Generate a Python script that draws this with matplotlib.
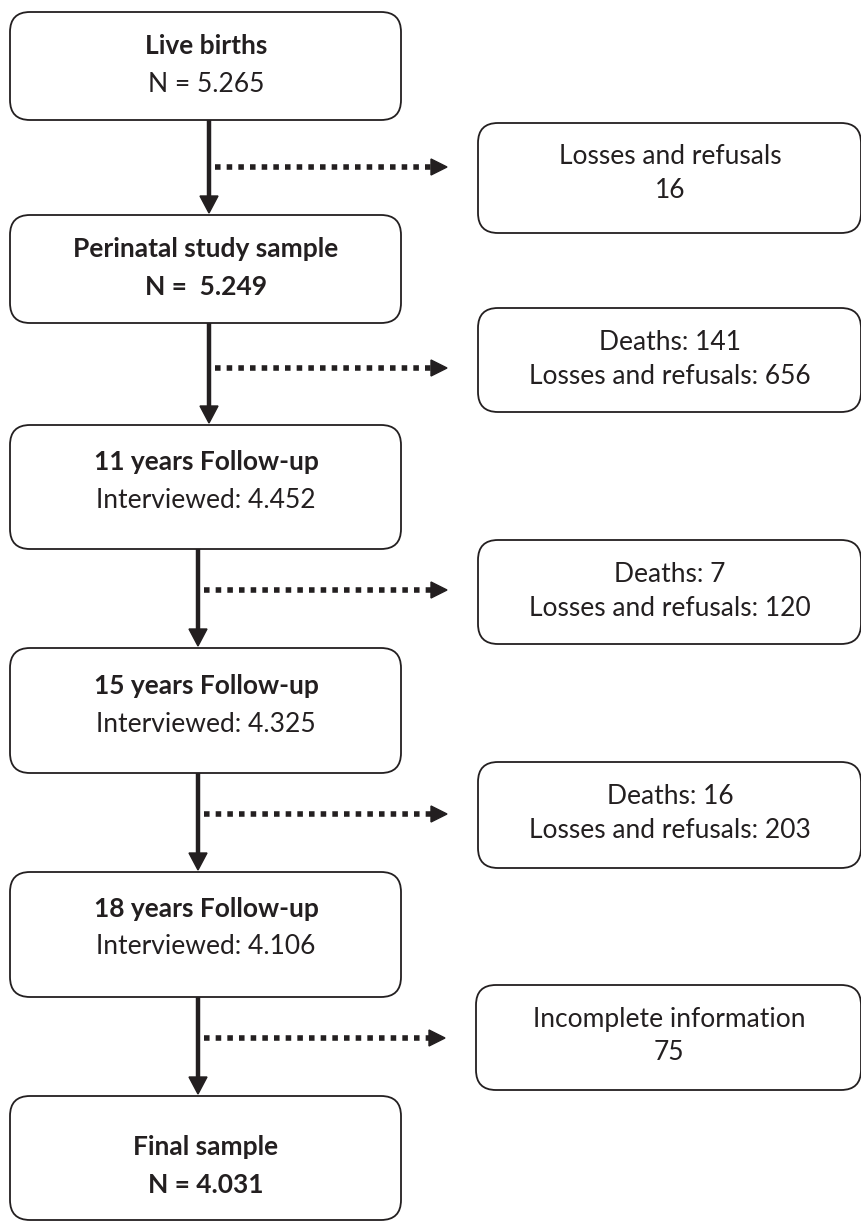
import matplotlib.pyplot as plt
from matplotlib.patches import FancyBboxPatch, Polygon

plt.rcParams['font.family'] = ['Lato', 'DejaVu Sans']

# flow data
stage_titles = ['Live births', 'Perinatal study sample', '11 years Follow-up',
                '15 years Follow-up', '18 years Follow-up', 'Final sample']
stage_values = ['N = 5.265', 'N =  5.249', 'Interviewed: 4.452',
                'Interviewed: 4.325', 'Interviewed: 4.106', 'N = 4.031']
stage_value_bold = [False, True, False, False, False, True]
exit_lines = [['Losses and refusals', '16'],
              ['Deaths: 141', 'Losses and refusals: 656'],
              ['Deaths: 7', 'Losses and refusals: 120'],
              ['Deaths: 16', 'Losses and refusals: 203'],
              ['Incomplete information', '75']]

# layout in pixels (top, bottom, text offset)
left_boxes = [(12, 120, 34), (215, 323, 34), (425, 549, 37), (648, 773, 38),
              (872, 997, 37), (1096, 1220, 51)]
right_boxes = [(123, 233), (308, 412), (540, 644), (762, 868), (985, 1090)]
right_x0 = [478, 478, 478, 478, 476]
arrow_x = [209, 209, 198, 198, 198]
dot_y = [167, 368, 590, 814, 1038]

fig = plt.figure(figsize=(8.62, 12.32), dpi=100)
ax = fig.add_axes([0, 0, 1, 1])
ax.set_xlim(0, 862)
ax.set_ylim(1232, 0)
ax.axis('off')

def box(x0, x1, y0, y1):
    p = FancyBboxPatch((x0, y0), x1 - x0, y1 - y0,
                       boxstyle='round,pad=0,rounding_size=20',
                       fc='white', ec='#231f20', lw=1.3)
    ax.add_patch(p)

fs = 19
for i, (t, b, off) in enumerate(left_boxes):
    box(10, 401, t, b)
    cy = t + off
    ax.text(206, cy, stage_titles[i], ha='center', va='center',
            fontsize=fs, fontweight='bold', color='#231f20')
    ax.text(206, cy + 38, stage_values[i], ha='center', va='center',
            fontsize=fs, fontweight='bold' if stage_value_bold[i] else 'normal',
            color='#231f20')

for i, (t, b) in enumerate(right_boxes):
    box(right_x0[i], 861, t, b)
    cx = (right_x0[i] + 862) / 2
    ax.text(cx, t + 34, exit_lines[i][0], ha='center', va='center',
            fontsize=fs, color='#231f20')
    ax.text(cx, t + 68, exit_lines[i][1], ha='center', va='center',
            fontsize=fs, color='#231f20')

for i in range(5):
    x = arrow_x[i]
    top = left_boxes[i][1]
    tip = left_boxes[i + 1][0] - 2
    ax.plot([x, x], [top, tip - 14], color='#231f20', lw=3.2, solid_capstyle='butt')
    ax.add_patch(Polygon([[x - 9, tip - 17], [x + 9, tip - 17], [x, tip]],
                         closed=True, color='#231f20'))
    y = dot_y[i]
    x_end = right_x0[i] - 31
    ax.plot([x + 6, x_end - 14], [y, y], color='#231f20', lw=4.0,
            linestyle=(0, (1, 1.1)), dash_capstyle='butt')
    ax.add_patch(Polygon([[x_end - 16, y - 8], [x_end - 16, y + 8], [x_end, y]],
                         closed=True, color='#231f20'))

fig.savefig('out.png', dpi=100)
